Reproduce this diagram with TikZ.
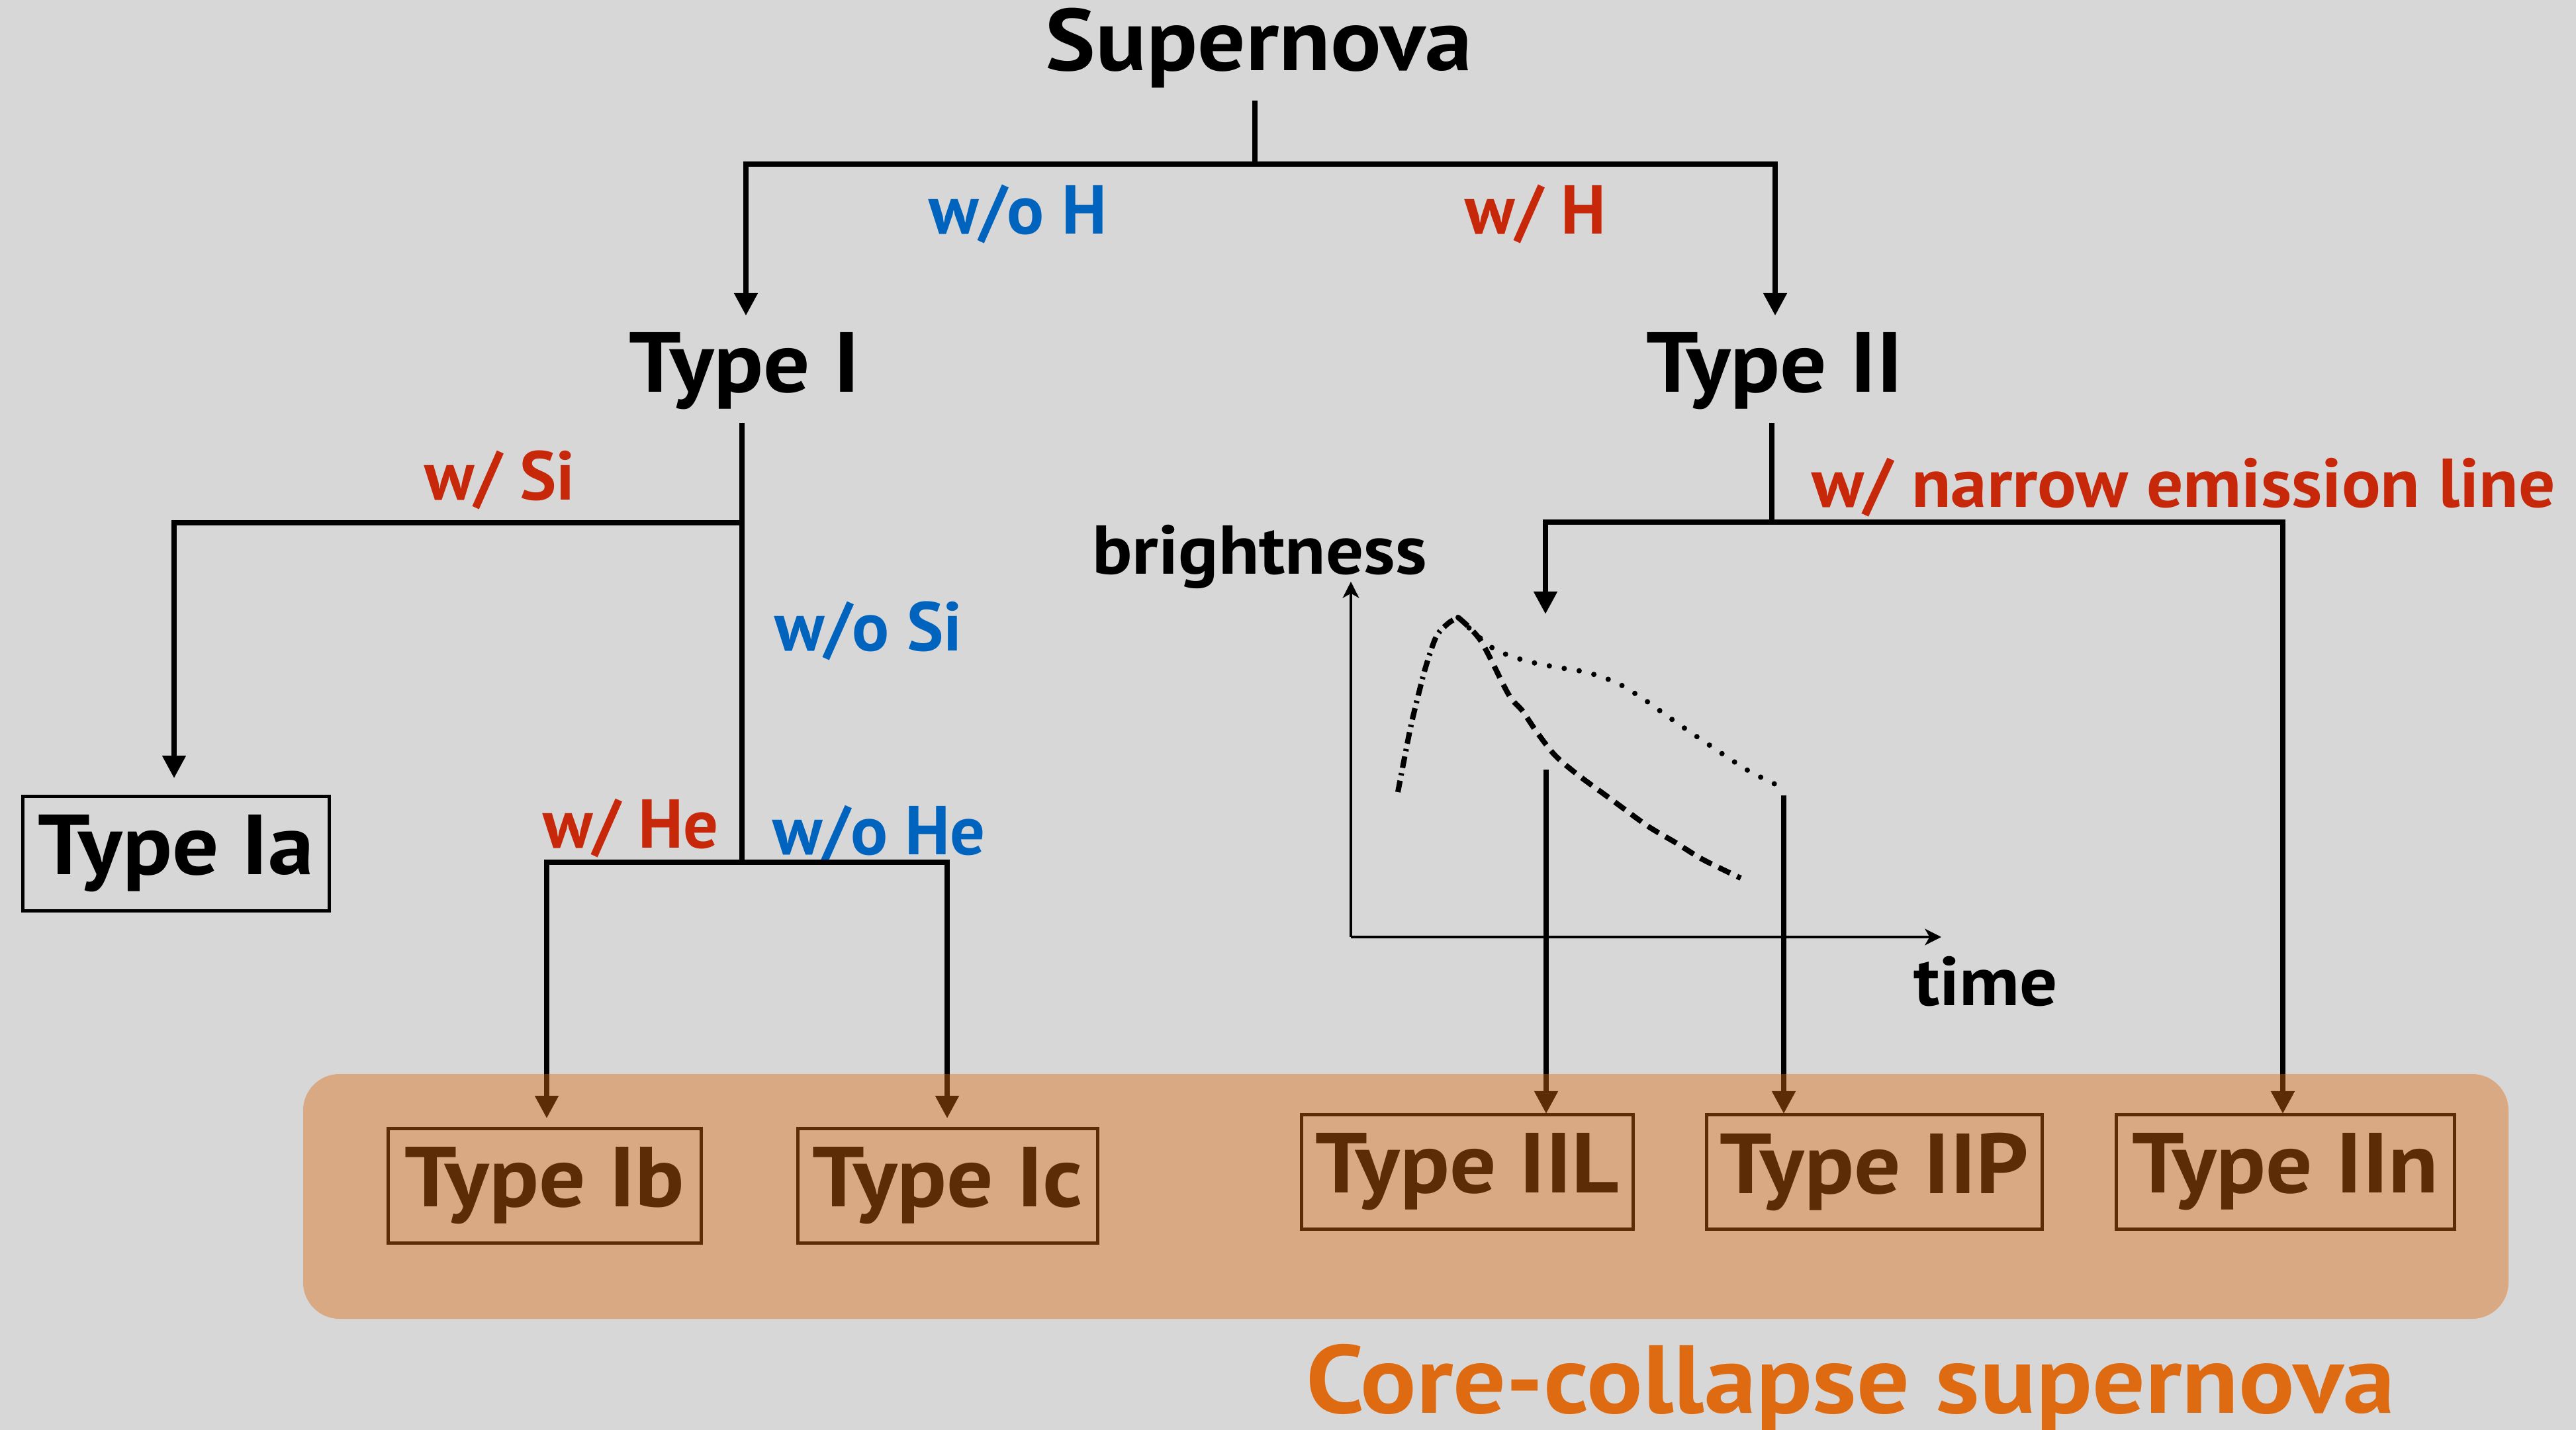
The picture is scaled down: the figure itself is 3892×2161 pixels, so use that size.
\documentclass[tikz,border=0pt]{standalone}
\usepackage{fontspec}
\setmainfont{PT Sans}
\newfontfamily\widefont{PT Sans}[FakeStretch=1.08]
\usetikzlibrary{arrows.meta}
\definecolor{bg}{HTML}{D7D7D7}
\definecolor{myblue}{HTML}{0064BE}
\definecolor{myred}{HTML}{C8280A}
\definecolor{myorange}{HTML}{DD6A10}
\definecolor{cctext}{HTML}{DE6B12}
\begin{document}
\begin{tikzpicture}[x=0.01cm,y=-0.01cm,
  big/.style={font=\widefont\fontsize{36.6}{40}\selectfont\bfseries, inner sep=0pt, anchor=base},
  lab/.style={font=\fontsize{29.7}{32}\selectfont\bfseries, inner sep=0pt, anchor=base},
  wlab/.style={font=\widefont\fontsize{29.7}{32}\selectfont\bfseries, inner sep=0pt, anchor=base},
  tbox/.style={draw, line width=1.4pt, font=\widefont\fontsize{36.6}{40}\selectfont\bfseries, inner sep=0pt, minimum height=1.72cm},
  conn/.style={line width=2.2pt},
  arr/.style={conn, -{Triangle[length=9.7pt,width=9.7pt]}},
  axisarr/.style={line width=1.4pt, -{Stealth[length=7pt,width=7pt,inset=2pt]}},
  curve/.style={line width=2.3pt},
]
\fill[bg] (0,0) rectangle (3892,2161);
\useasboundingbox (0,0) rectangle (3892,2161);

% text nodes
\node[big, font=\widefont\fontsize{37.6}{41}\selectfont\bfseries] (sn) at (1902,107) {Supernova};
\node[lab, text=myblue] (woH) at (1538,354) {w/o H};
\node[lab, text=myred] (wH) at (2320,354) {w/ H};
\node[big] (t1) at (1125,593) {Type I};
\node[big] (t2) at (2681,593) {Type II};
\node[lab, text=myred] (wSi) at (755,756) {w/ Si};
\node[lab, text=myblue] (woSi) at (1312,983) {w/o Si};
\node[lab, text=myred] (wHe) at (953,1281) {w/ He};
\node[lab, text=myblue] (woHe) at (1328,1291) {w/o He};
\node[wlab] (br) at (1903,867) {brightness};
\node[wlab] (tm) at (3000,1519) {time};
\node[lab, text=myred, font=\widefont\fontsize{29.7}{32}\selectfont\bfseries, xscale=0.97] (narrow) at (3299,767) {w/ narrow emission line};

% boxes
\node[tbox, minimum width=4.62cm] (t1a) at (266,1290) {Type Ia};
\node[tbox, minimum width=4.73cm] (t1b) at (823,1792) {Type Ib};
\node[tbox, minimum width=4.53cm] (t1c) at (1432,1792) {Type Ic};
\node[tbox, minimum width=5.00cm] (t2l) at (2217,1771) {Type IIL};
\node[tbox, minimum width=5.07cm] (t2p) at (2832,1771) {Type IIP};
\node[tbox, minimum width=5.11cm] (t2n) at (3453,1771) {Type IIn};

% junction coordinates
\coordinate (snb) at (1896,152);
\coordinate (j0) at (1896,248);
\coordinate (t1in) at (1127,477);
\coordinate (t2in) at (2682,477);
\coordinate (t1out) at (1121,639);
\coordinate (jSi) at (1121,790);
\coordinate (jHe) at (1121,1303);
\coordinate (t1ain) at (263,1176);
\coordinate (t1bin) at (826,1690);
\coordinate (t1cin) at (1431,1690);
\coordinate (t2out) at (2677,639);
\coordinate (jII) at (2677,789);
\coordinate (plotin) at (2335,928);
\coordinate (t2nin) at (3449,1683);
\coordinate (lIIL) at (2336,1163);
\coordinate (t2lin) at (2336,1683);
\coordinate (lIIP) at (2695,1202);
\coordinate (t2pin) at (2695,1683);
\coordinate (orig) at (2041,1416);
\coordinate (ytip) at (2041,879);
\coordinate (xtip) at (2933,1416);

% connectors
\draw[conn] (snb) -- (j0);
\draw[arr] (j0) -| (t1in);
\draw[arr] (j0) -| (t2in);
\draw[conn] (t1out) -- (jHe);
\draw[arr] (jSi) -| (t1ain);
\draw[arr] (jHe) -| (t1bin);
\draw[arr] (jHe) -| (t1cin);
\draw[conn] (t2out) -- (jII);
\draw[arr] (jII) -| (plotin);
\draw[arr] (jII) -| (t2nin);
\draw[arr] (lIIL) -- (t2lin);
\draw[arr] (lIIP) -- (t2pin);

% axes
\draw[axisarr] (orig) -- (ytip);
\draw[axisarr] (orig) -- (xtip);

% light curves
\draw[curve, dash pattern=on 5pt off 2.3pt on 1pt off 2.3pt] plot[smooth] coordinates {(2112,1197) (2117,1171) (2131,1100) (2142,1054) (2154,1008) (2170,962) (2188,942) (2203,933)};
\draw[curve, dash pattern=on 5.5pt off 3.3pt] plot[smooth] coordinates {(2203,933) (2237,968) (2279,1049) (2300,1074) (2321,1105) (2349,1141) (2384,1171) (2433,1207) (2489,1248) (2531,1273) (2573,1299) (2630,1327)};
\draw[curve, line cap=round, dash pattern=on 0pt off 6.5pt] plot[smooth] coordinates {(2203,933) (2223,952) (2258,981) (2303,998) (2350,1008) (2397,1016) (2443,1032) (2484,1057) (2523,1085) (2562,1112) (2602,1139) (2642,1165) (2686,1187)};

% core-collapse overlay
\fill[myorange, fill opacity=0.42, rounded corners=0.55cm] (458,1623) rectangle (3790,1993);
\node[font=\widefont\fontsize{41.5}{44}\selectfont\bfseries, text=cctext, inner sep=0pt, anchor=base] (cc) at (2796,2135) {Core-collapse supernova};
\end{tikzpicture}
\end{document}
